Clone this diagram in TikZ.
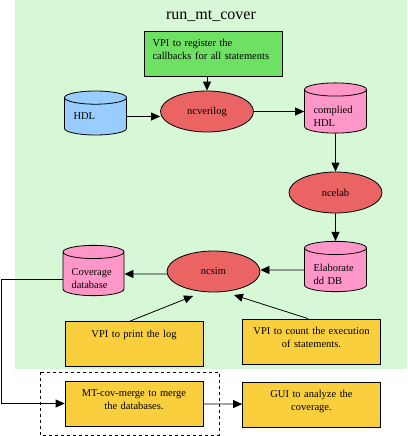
\documentclass[tikz,border=0pt]{standalone}
\usepackage{fontspec}
\setmainfont{Liberation Serif}
\usetikzlibrary{arrows.meta,calc,shapes.geometric}
\definecolor{bggreen}{RGB}{214,248,214}
\definecolor{regreen}{RGB}{110,225,100}
\definecolor{toolred}{RGB}{235,100,100}
\definecolor{dbpink}{RGB}{255,150,200}
\definecolor{hdlblue}{RGB}{153,204,255}
\definecolor{taskyellow}{RGB}{250,207,62}

\begin{document}
\begin{tikzpicture}[x=1pt,y=-1pt,>={Triangle[length=9pt,width=8pt]},
    font=\fontsize{10.5}{13}\selectfont,
    every node/.style={line width=0.8pt},
    store/.style={cylinder,shape border rotate=90,aspect=0.3,draw,minimum width=62pt,minimum height=44pt,text width=44pt,align=left,inner sep=0pt},
    twoline/.style={text height=17pt},
    tool/.style={ellipse,draw,fill=toolred,minimum width=93pt,minimum height=41pt,inner sep=0pt},
    task/.style={rectangle,draw,fill=taskyellow,minimum width=138pt,minimum height=45pt,text width=130pt,align=center,inner ysep=0pt,text height=15.5pt,text depth=29.5pt},
    flow/.style={->,line width=0.8pt}]
    \useasboundingbox (0,0) rectangle (407,436);
    \fill[bggreen] (15,0) rectangle (407,369);
    \node[font=\fontsize{16}{18}\selectfont] (title) at (211,16) {run\_mt\_cover};
    \node[task,fill=regreen,align=left,text width=122pt] (reg) at (213.5,53.5) {VPI to register the\\callbacks for all statements};
    \node[store,fill=hdlblue] (hdl) at (95.5,116.5) {HDL};
    \node[tool] (ncv) at (207,111.5) {ncverilog};
    \node[store,twoline,fill=dbpink] (cmp) at (335.5,111.5) {complied\\HDL};
    \node[tool] (nce) at (335.5,192.5) {ncelab};
    \node[store,twoline,fill=dbpink] (elab) at (335.5,270) {Elaborate\\dd DB};
    \node[tool] (ncs) at (213.5,271.5) {ncsim};
    \node[store,twoline,fill=dbpink,minimum width=61pt] (cov) at (93.5,274) {Coverage\\database};
    \node[task] (log) at (134,344) {VPI to print the log};
    \node[task] (cnt) at (311.5,341.5) {VPI to count the execution\\of statements.};
    \node[task] (mrg) at (134,403.5) {MT-cov-merge to merge\\the databases.};
    \node[task] (gui) at (311.5,404.5) {GUI to analyze the\\coverage.};
    \draw[dashed,line width=0.8pt] (40,372) rectangle (219,435);
    % where the two VPI arrows meet ncsim
    \coordinate (logtip) at (193,296);
    \coordinate (cnttip) at (234,295);
    \draw[flow] (reg.south -| ncv) -- (ncv);
    \draw[flow] (hdl) -- (hdl -| ncv.west);
    \draw[flow] (ncv) -- (cmp);
    \draw[flow] (cmp) -- (nce);
    \draw[flow] (nce) -- (elab);
    \draw[flow] (elab) -- (elab -| ncs.east);
    \draw[flow] (ncs.west |- cov) -- (cov);
    \draw[flow] ([xshift=-4pt]log.north) -- (logtip);
    \draw[flow] ([xshift=-3.5pt]cnt.north) -- (cnttip);
    \draw[flow] ([yshift=-5pt]cov.west) -- ++(-61,0) |- (mrg);
    \draw[flow] (mrg) -- (gui);
\end{tikzpicture}
\end{document}
